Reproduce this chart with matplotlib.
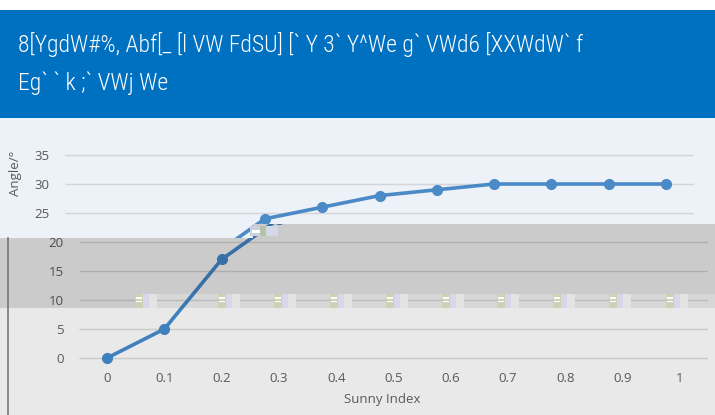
import matplotlib
matplotlib.use("Agg")
import matplotlib.pyplot as plt
from matplotlib.patches import Polygon, Rectangle

# data
sunny_index = [0, 0.1, 0.2, 0.3, 0.4, 0.5, 0.6, 0.7, 0.8, 0.9, 1.0]
angle = [0, 5, 17, 24, 26, 28, 29, 30, 30, 30, 30]
y_ticks = [0, 5, 10, 15, 20, 25, 30, 35]
x_ticks = [0, 0.1, 0.2, 0.3, 0.4, 0.5, 0.6, 0.7, 0.8, 0.9, 1.0]
x_tick_labels = ["0", "0.1", "0.2", "0.3", "0.4", "0.5", "0.6", "0.7", "0.8", "0.9", "1"]
header_lines = ["8[YgdW#%, Abf[_ [l VW FdSU] [` Y 3` Y^We g` VWd6 [XXWdW` f",
                "Eg` ` k ;` VWj We"]
# small glitch blocks along the 10-line (pixel x of left edge)
glitch_x = [135, 218, 274, 330, 386, 442, 497, 553, 609, 666]

W, H = 715, 415
fig = plt.figure(figsize=(W / 100, H / 100), dpi=100)
fig.patch.set_facecolor("white")


def fx(px):
    return px / W


def fy(py):
    return 1 - py / H


def rect(x0, y0, x1, y1, **kw):
    # rectangle given in image pixels (top-left origin)
    r = Rectangle((fx(x0), fy(y1)), fx(x1) - fx(x0), fy(y0) - fy(y1),
                  transform=fig.transFigure, linewidth=0, **kw)
    fig.add_artist(r)
    return r


line_col = "#4A8AC6"
grid_col = "#D3D5D8"
text_col = "#595959"
font = "Open Sans"

# vertical layout of the plot area (px): 0 -> 358, 35 -> 155
ylo, yhi = -2, 36.5
ppu = (358 - 155) / 35
ax_bottom_px = 358 + (0 - ylo) * ppu
ax_top_px = 155 - (yhi - 35) * ppu
xlo, xhi = -0.049, 1.049


def make_axes(left_px, right_px, z):
    ax = fig.add_axes([fx(left_px), fy(ax_bottom_px), fx(right_px) - fx(left_px),
                       fy(ax_top_px) - fy(ax_bottom_px)])
    ax.set_zorder(z)
    ax.patch.set_visible(False)
    for s in ax.spines.values():
        s.set_visible(False)
    ax.set_xlim(xlo, xhi)
    ax.set_ylim(ylo, yhi)
    ax.tick_params(length=0, labelcolor=text_col, labelsize=9.5)
    ax.tick_params(axis="y", pad=11)
    ax.tick_params(axis="x", pad=2)
    gl = ax.hlines(y_ticks, xlo, xhi, color=grid_col, lw=1.0, zorder=1)
    ln, = ax.plot(sunny_index, angle, color=line_col, lw=2.6, marker="o",
                  markersize=7, zorder=3)
    ax.set_xticks(x_ticks)
    ax.set_yticks(y_ticks)
    for lab in ax.get_xticklabels() + ax.get_yticklabels():
        lab.set_fontfamily(font)
    return ax, gl, ln


# upper (shifted) layer
rect(0, 118, 715, 415, facecolor="#EDF1F8", zorder=-3)
ax1, _, _ = make_axes(65, 694, -2)
ax1.set_xticklabels([])
ax1.set_yticklabels([str(v) if v >= 20 else "" for v in y_ticks])
ax1.set_ylabel("Angle/°", fontfamily=font, fontsize=9.5, color=text_col,
               ha="center", va="center")
ax1.yaxis.set_label_coords((16 - 65) / 629, (ax_bottom_px - 173) / (ax_bottom_px - ax_top_px))

# lower layer
lower = [(0, 238), (253, 238), (253, 224), (715, 224), (715, 415), (0, 415)]
lower_poly = Polygon([(fx(a), fy(b)) for a, b in lower], closed=True,
                     transform=fig.transFigure, facecolor="#E8E9E8", lw=0, zorder=-1)
fig.add_artist(lower_poly)
clip_poly = Polygon([(fx(a), fy(b)) for a, b in lower], closed=True,
                    transform=fig.transFigure)
ax2, gl2, ln2 = make_axes(79, 708, 0)
gl2.set_color("#C9CAC9")
gl2.set_clip_path(clip_poly)
ln2.set_clip_path(clip_poly)
ln2.set_color("#3F80BE")
ax2.set_xticklabels(x_tick_labels)
ax2.set_yticklabels([str(v) if v <= 20 else "" for v in y_ticks])
ax2.set_xlabel("Sunny Index", fontfamily=font, fontsize=9.5, color=text_col,
               ha="center", va="center")
ax2.xaxis.set_label_coords((382 - 79) / 629, (ax_bottom_px - 399) / (ax_bottom_px - ax_top_px))

# grey overlays
dark = [(0, 238), (253, 238), (253, 224), (715, 224), (715, 294), (135, 294),
        (135, 308), (0, 308)]
fig.add_artist(Polygon([(fx(a), fy(b)) for a, b in dark], closed=True,
                       transform=fig.transFigure, facecolor="black", alpha=0.125,
                       lw=0, zorder=1))
rect(135, 294, 715, 308, facecolor="black", alpha=0.075, zorder=1)
fig.add_artist(plt.Line2D([fx(8), fx(8)], [fy(238), fy(415)], transform=fig.transFigure,
                          color="#6E6E6E", lw=1.1, zorder=2))

# glitch blocks
for gx in glitch_x:
    rect(gx, 294, gx + 8, 308, facecolor="#CDD1B6", zorder=3)
    rect(gx + 1, 297, gx + 7, 298.5, facecolor="white", zorder=3.1)
    rect(gx + 1, 300.5, gx + 7, 302, facecolor="white", zorder=3.1)
    rect(gx + 8, 294, gx + 14, 308, facecolor="#DAD6EA", zorder=3)
    rect(gx + 14, 294, gx + 22, 308, facecolor="#E2E3E2", zorder=3)
rect(250, 226, 260, 236, facecolor="#C9D0DE", zorder=3)
rect(252, 230, 260, 233, facecolor="white", zorder=3.1)
rect(260, 226, 266, 236, facecolor="#B5C2A8", zorder=3)
rect(266, 226, 278, 236, facecolor="#D3DAE6", zorder=3)

# header band
rect(0, 10, 715, 118, facecolor="#0070C0", zorder=4)
for i, txt in enumerate(header_lines):
    fig.text(fx(18), fy(44 + i * 39), txt, color="white", fontsize=17,
             fontfamily=["Roboto Condensed", "DejaVu Sans"], fontstretch="condensed",
             fontweight="light", va="center", ha="left", zorder=5)

fig.savefig("out.png", dpi=100)
